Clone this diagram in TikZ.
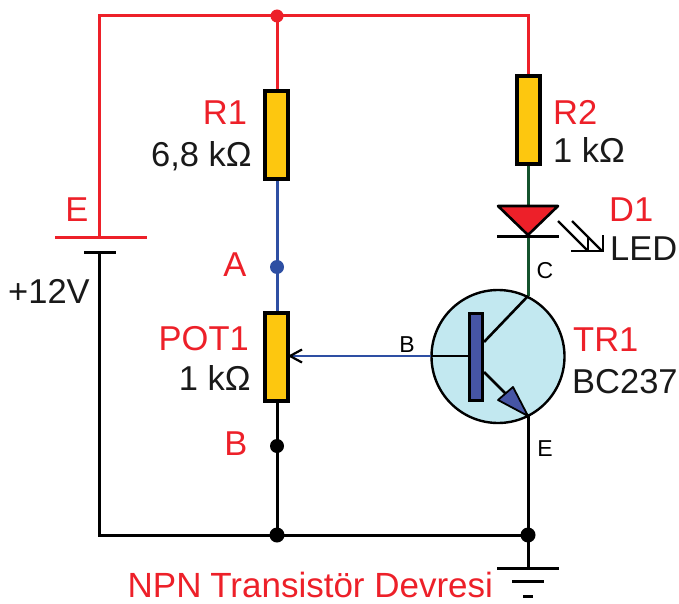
\documentclass[tikz,border=0pt]{standalone}
\usepackage{fontspec}
\setmainfont{Liberation Sans}
\definecolor{rd}{HTML}{ED2029}
\definecolor{bl}{HTML}{2E4FA3}
\definecolor{gr}{HTML}{14532D}
\definecolor{yl}{HTML}{FDC70F}
\definecolor{tb}{HTML}{C2E8F0}
\definecolor{bar}{HTML}{4655A5}
\tikzset{
  wire/.style={line width=3pt},
  redw/.style={wire,draw=rd},
  bluew/.style={wire,draw=bl},
  greenw/.style={wire,draw=gr},
  blackw/.style={wire,draw=black},
  res/.style={draw=black,line width=3.4pt,fill=yl,minimum width=23pt,minimum height=88pt,inner sep=0pt,shape=rectangle},
  dot/.style={circle,inner sep=0pt,minimum size=#1},
  dot/.default=13pt,
  big/.style={inner sep=0pt,font=\fontsize{34.5}{35}\selectfont},
  small/.style={inner sep=0pt,font=\fontsize{23}{23}\selectfont},
  redt/.style={big,text=rd},
  blackt/.style={big,text=black!90}
}
\begin{document}
\begin{tikzpicture}[x=1pt,y=-1pt]
\useasboundingbox (0,0) rectangle (679,604);
% junctions and pins
\coordinate (tl) at (99,16);
\coordinate (tj) at (277,16);
\coordinate (tr) at (528,16);
\coordinate (bplus) at (99,237);
\coordinate (bminus) at (99,252);
\coordinate (bl) at (99,535);
\coordinate (bj) at (277,535);
\coordinate (bjr) at (528,535);
\coordinate (gnd) at (528,568);
\coordinate (col) at (528,296);
\coordinate (emi) at (528,416);
\coordinate (ledtop) at (528,206);
\coordinate (ledk) at (528,236);
\coordinate (aj) at (277,267);
\coordinate (bjm) at (277,446);
\coordinate (wiper) at (290,356);
\coordinate (base) at (431,356);
\coordinate (barin) at (468,356);
\coordinate (cb) at (484,342);
\coordinate (eb) at (484,372);
% wires
\draw[redw] (bplus) -- (tl) -- (tj) -- (tr) -- (528,75);
\draw[redw] (tj) -- (277,90);
\draw[bluew] (277,180) -- (277,312);
\draw[blackw] (277,402) -- (bj);
\draw[greenw] (528,165) -- (ledtop);
\draw[greenw] (ledk) -- (col);
\draw[blackw] (bminus) -- (bl) -- (bj) -- (bjr) -- (emi);
\draw[blackw] (bjr) -- (gnd);
% components
\node[res] (r1) at (276.5,135) {};
\node[res] (pot) at (276.5,357) {};
\node[res] (r2) at (528.5,120) {};
% battery
\draw[redw] (55,237) -- (147,237);
\draw[blackw] (84,252) -- (116,252);
% ground
\draw[blackw] (497,568) -- (559,568);
\draw[blackw] (512,581) -- (544,581);
\draw[blackw] (523,596) -- (533,596);
% transistor
\node[circle,draw=black,line width=2.4pt,fill=tb,minimum size=133pt,inner sep=0pt] (tr1) at (498,356.5) {};
\draw[line width=2.6pt] (base) -- (barin);
\draw[line width=2.6pt] (cb) -- (col);
\draw[line width=2.6pt] (eb) -- (emi);
\draw[draw=black,line width=1.8pt,fill=bar,line join=round] (emi) -- (513,387) -- (498,400) -- cycle;
\node[draw=black,line width=3.4pt,fill=bar,minimum width=13pt,minimum height=87pt,inner sep=0pt] (tbar) at (476,357) {};
% base wire and wiper arrow
\draw[line width=2.6pt,draw=bl] (base) -- (wiper);
\draw[line width=2.2pt,line join=miter] (302,349.5) -- (wiper) -- (302,362.5);
% LED
\draw[draw=black,line width=2.6pt,fill=rd,line join=round] (498,206) -- (558,206) -- (528,235) -- cycle;
\draw[blackw] (497,236.5) -- (559,236.5);
\draw[line width=2.2pt] (558,221) -- (588,251);
\draw[line width=2.2pt] (572,221) -- (602,251);
\draw[line width=2.6pt] (571,251) -- (603,251) -- (603,235);
\draw[line width=2.2pt] (588,251) -- (588,237);
% dots
\node[dot,fill=rd] (d1) at (tj) {};
\node[dot=14pt,fill=bl] (d2) at (aj) {};
\node[dot=14pt,fill=black] (d3) at (bjm) {};
\node[dot=15pt,fill=black] (d4) at (bj) {};
\node[dot=15pt,fill=black] (d5) at (bjr) {};
% labels
\node[redt,anchor=base] (lr1) at (225,125) {R1};
\node[blackt,anchor=base east] (lv1) at (252,167) {6,8 kΩ};
\node[redt,anchor=base west] (lr2) at (553,125) {R2};
\node[blackt,anchor=base west] (lv2) at (553,162) {1 kΩ};
\node[redt,anchor=base west] (ld1) at (609,221) {D1};
\node[blackt,anchor=base west] (lled) at (610,260) {LED};
\node[small,anchor=base] (lc) at (545,278) {C};
\node[redt,anchor=base west] (ltr) at (573,351) {TR1};
\node[blackt,anchor=base west] (lbc) at (572,393) {BC237};
\node[small,anchor=base] (lb) at (407,352) {B};
\node[small,anchor=base] (le) at (545,456) {E};
\node[redt,anchor=base] (lee) at (77,221) {E};
\node[blackt,anchor=base west] (lv) at (8,303) {+12V};
\node[redt,anchor=base] (la) at (235,276) {A};
\node[redt,anchor=base east] (lp) at (249,350) {POT1};
\node[blackt,anchor=base east] (lp1) at (251,390) {1 kΩ};
\node[redt,anchor=base] (lbb) at (236,455) {B};
\node[redt,anchor=base west,font=\fontsize{35}{35}\selectfont] (title) at (127.5,597) {NPN\hspace{-1pt} Transistör Devresi};
\end{tikzpicture}
\end{document}
